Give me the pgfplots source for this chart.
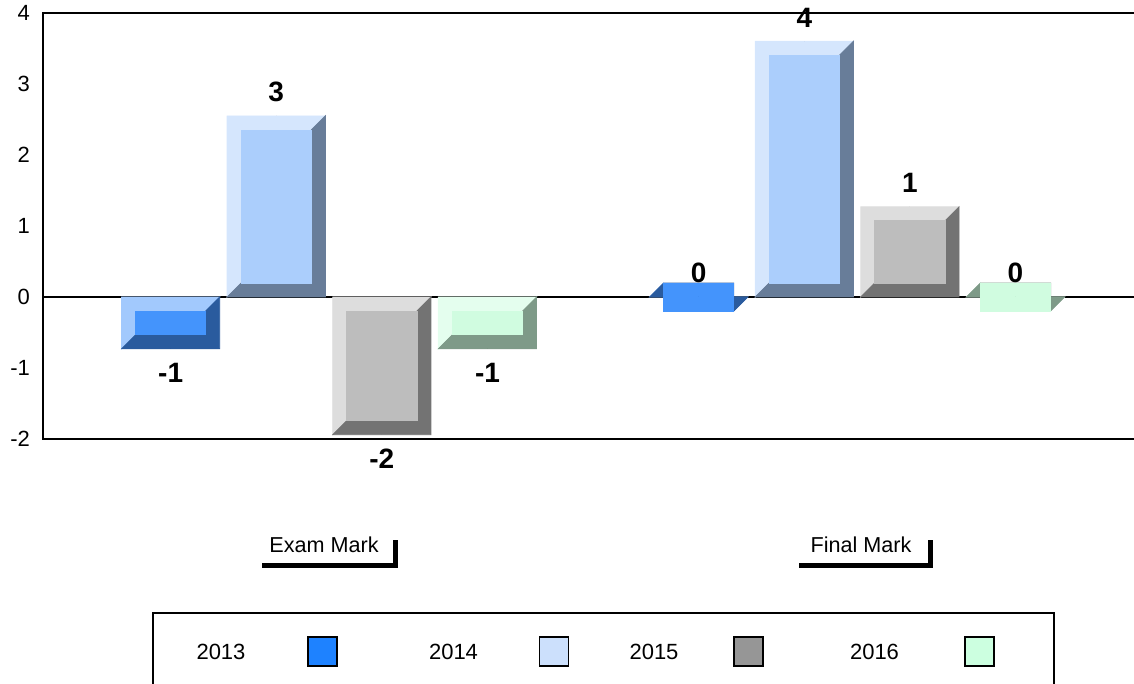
\documentclass[border=0pt]{standalone}
\usepackage{fontspec}
\setmainfont{Liberation Sans}
\usepackage{pgfplots}
\pgfplotsset{compat=1.18}

\definecolor{c13m}{HTML}{4494FC}\definecolor{c13l}{HTML}{A2C9FD}\definecolor{c13d}{HTML}{2A5B9E}
\definecolor{c14m}{HTML}{ABCEFC}\definecolor{c14l}{HTML}{D5E6FD}\definecolor{c14d}{HTML}{687D99}
\definecolor{c15m}{HTML}{BDBDBD}\definecolor{c15l}{HTML}{DDDDDD}\definecolor{c15d}{HTML}{737373}
\definecolor{c16m}{HTML}{D0FCE0}\definecolor{c16l}{HTML}{E4FEEE}\definecolor{c16d}{HTML}{7E9A88}
\definecolor{s13}{HTML}{1E82FF}\definecolor{s14}{HTML}{CCE0FC}
\definecolor{s15}{HTML}{969696}\definecolor{s16}{HTML}{CCFFE0}

% bevelled bar geometry (axis units)
\def\hw{0.093}
\def\hwi{0.0665}
\def\dy{0.197}

\pgfplotstableread{
x    y13    x14   y14   x15   y15    x16   y16
-0.3 -0.73  -0.1  2.55  0.1   -1.94  0.3   -0.73
0.7  0      0.9   3.6   1.1   1.27   1.3   0
}\marks

\pgfplotsset{
  bevel/.style n args={3}{
    only marks, scatter, point meta=y,
    mark=*, mark size=0pt,
    visualization depends on={y \as \barval},
    scatter/@pre marker code/.code={%
      \pgfmathsetmacro\ytop{max(0,0-(\barval))}%
      \pgfmathsetmacro\ybot{min(0,0-(\barval))}%
      \pgfmathsetmacro\yti{\ytop-\dy}%
      \pgfmathsetmacro\ybi{\ybot+\dy}%
      \fill[#2] (axis direction cs:-\hw,\ybot) -- (axis direction cs:-\hw,\ytop)
        -- (axis direction cs:\hw,\ytop) -- (axis direction cs:\hwi,\yti)
        -- (axis direction cs:-\hwi,\yti) -- (axis direction cs:-\hwi,\ybi) -- cycle;
      \fill[#3] (axis direction cs:\hw,\ytop) -- (axis direction cs:\hw,\ybot)
        -- (axis direction cs:-\hw,\ybot) -- (axis direction cs:-\hwi,\ybi)
        -- (axis direction cs:\hwi,\ybi) -- (axis direction cs:\hwi,\yti) -- cycle;
      \fill[#1] (axis direction cs:-\hwi,\ybi) rectangle (axis direction cs:\hwi,\yti);
      \begin{scope}
    },
    scatter/@post marker code/.code={\end{scope}},
  },
  vlabel/.style={
    only marks, mark=*, mark size=0pt, draw=none, fill=none,
    nodes near coords={\pgfmathprintnumber[fixed,precision=0]{\pgfplotspointmeta}},
    nodes near coords align={vertical},
    every node near coord/.append style={font=\bfseries\fontsize{14}{16}\selectfont, text=black, inner sep=6.8pt},
  }
}

\begin{document}
\begin{tikzpicture}
\useasboundingbox (-21.5pt,-122.5pt) rectangle (545.5pt,219.5pt);
\begin{axis}[
  scale only axis, width=552pt, height=213pt,
  xmin=-0.5417, xmax=1.549, ymin=-2, ymax=4,
  xtick={0,1}, xticklabels={\hspace*{-5pt}Exam Mark, \hspace*{4pt}Final Mark},
  ytick={-2,-1,0,1,2,3,4},
  major tick length=0pt,
  xticklabel style={anchor=center, yshift=-53pt, font=\fontsize{10.8}{12}\selectfont},
  yticklabel style={font=\fontsize{11}{13}\selectfont, xshift=-3pt},
  /pgf/number format/assume math mode=true,
  axis line style={black, line width=1pt},
  extra y ticks={0}, extra y tick labels={},
  extra tick style={grid=major, major grid style={black, line width=1pt}},
  clip=false,
]
\addplot[bevel={c13m}{c13l}{c13d}] table[x=x, y=y13] {\marks};
\addplot[bevel={c14m}{c14l}{c14d}] table[x=x14, y=y14] {\marks};
\addplot[bevel={c15m}{c15l}{c15d}] table[x=x15, y=y15] {\marks};
\addplot[bevel={c16m}{c16l}{c16d}] table[x=x16, y=y16] {\marks};
\addplot[vlabel] table[x=x, y=y13] {\marks};
\addplot[vlabel] table[x=x14, y=y14] {\marks};
\addplot[vlabel] table[x=x15, y=y15] {\marks};
\addplot[vlabel] table[x=x16, y=y16] {\marks};
\end{axis}
% category label frames
\draw[line width=2.5pt] (109.5pt,-63.5pt) -- (176.25pt,-63.5pt) -- (176.25pt,-50.5pt);
\draw[line width=2.5pt] (378pt,-63.5pt) -- (443.75pt,-63.5pt) -- (443.75pt,-50.5pt);
% legend
\draw[line width=1pt] (55pt,-126pt) -- (55pt,-87pt) -- (505.5pt,-87pt) -- (505.5pt,-126pt);
\begin{scope}[every node/.style={font=\fontsize{11}{13}\selectfont}]
\node at (89pt,-106.5pt) {2013};
\node at (205.25pt,-106.5pt) {2014};
\node at (305.5pt,-106.5pt) {2015};
\node at (415.75pt,-106.5pt) {2016};
\end{scope}
\filldraw[fill=s13, draw=black, line width=0.9pt] (132.5pt,-99pt) rectangle (147pt,-113.5pt);
\filldraw[fill=s14, draw=black, line width=0.9pt] (248.25pt,-99pt) rectangle (262.75pt,-113.5pt);
\filldraw[fill=s15, draw=black, line width=0.9pt] (345.5pt,-99pt) rectangle (360pt,-113.5pt);
\filldraw[fill=s16, draw=black, line width=0.9pt] (461pt,-99pt) rectangle (475.5pt,-113.5pt);
\end{tikzpicture}
\end{document}
